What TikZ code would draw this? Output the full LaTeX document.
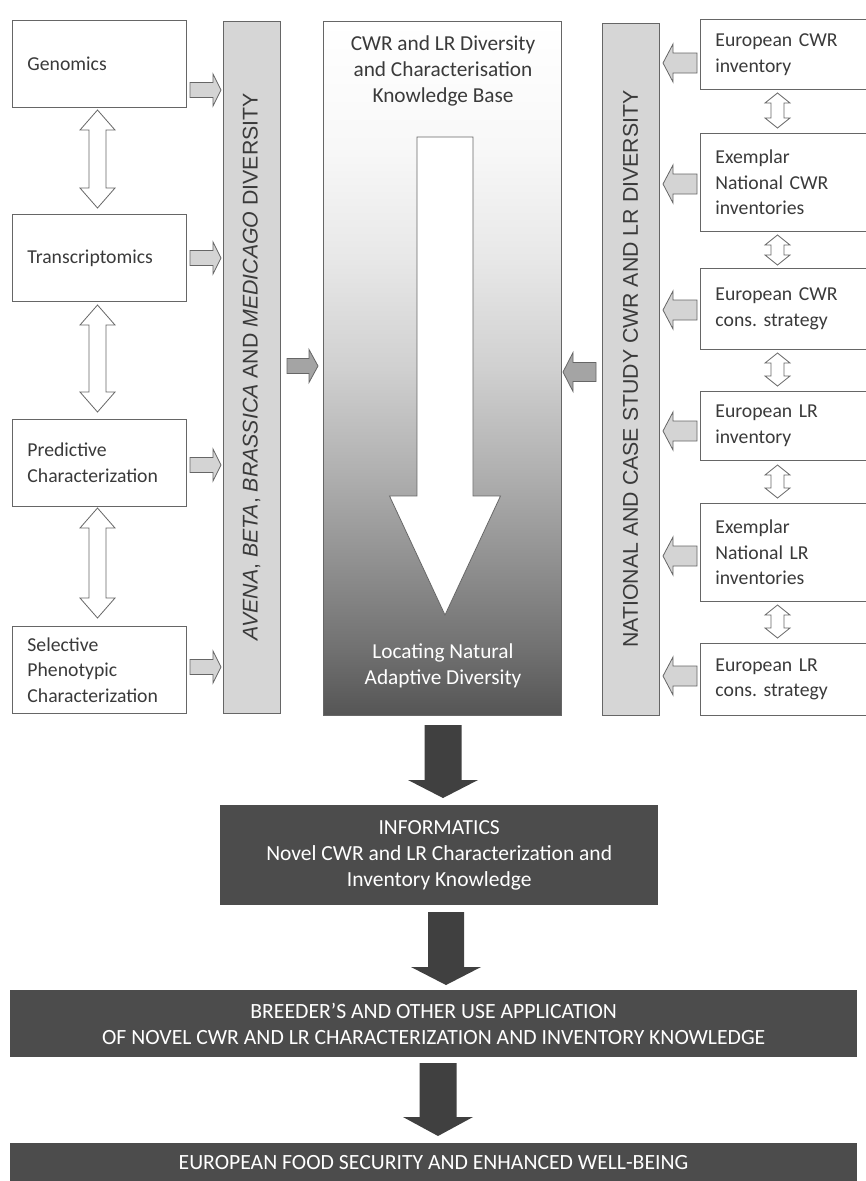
\documentclass[tikz,border=0pt]{standalone}
\usepackage{fontspec}
\setmainfont{Carlito}
\newfontfamily\arialf{Liberation Sans}
\frenchspacing
\definecolor{boxline}{HTML}{666666}
\definecolor{txt}{HTML}{3A3A3A}
\definecolor{bandfill}{HTML}{D6D6D6}
\definecolor{sarrow}{HTML}{D4D4D4}
\definecolor{marrow}{HTML}{A4A4A4}
\definecolor{darkfill}{HTML}{4C4C4C}
\definecolor{darkarrow}{HTML}{404040}
\definecolor{sh0}{HTML}{555555}
\definecolor{sh1}{HTML}{727272}
\definecolor{sh2}{HTML}{909090}
\definecolor{sh3}{HTML}{B2B2B2}
\definecolor{sh4}{HTML}{D0D0D0}
\definecolor{sh5}{HTML}{E8E8E8}
\definecolor{sh6}{HTML}{F8F8F8}
\pgfdeclareverticalshading{colshade}{100bp}{color(0bp)=(sh0); color(25bp)=(sh0); color(30bp)=(sh1); color(36bp)=(sh2); color(43bp)=(sh3); color(50bp)=(sh4); color(58bp)=(sh5); color(66bp)=(sh6); color(75bp)=(white); color(100bp)=(white)}
\tikzset{
  pics/blockarrow/.style n args={4}{code={
    \path[pic actions] (0,-#2) -- ({#1-#4},-#2) -- ({#1-#4},-#3) -- (#1,0) -- ({#1-#4},#3) -- ({#1-#4},#2) -- (0,#2) -- cycle;}},
  pics/dblarrow/.style n args={4}{code={
    \path[pic actions] (0,0) -- (#4,-#3) -- (#4,-#2) -- ({#1-#4},-#2) -- ({#1-#4},-#3) -- (#1,0) -- ({#1-#4},#3) -- ({#1-#4},#2) -- (#4,#2) -- (#4,#3) -- cycle;}},
}
\begin{document}
\begin{tikzpicture}[x=1pt,y=-1pt,
  box/.style={draw=boxline, line width=0.9pt, fill=white, text=txt, align=left, inner xsep=15pt, inner ysep=0pt, anchor=north west, font=\fontsize{19.7}{25.5}\selectfont},
  band/.style={draw=boxline, line width=0.9pt, fill=bandfill, text=txt, rotate=90, inner sep=0pt, font=\arialf\fontsize{21.3}{24}\selectfont},
  darkbox/.style={fill=darkfill, draw=none, text=white, align=center, anchor=north west, inner sep=0pt},
  lightarrow/.style={draw=boxline, fill=sarrow, line width=0.8pt},
  whitearrow/.style={draw=boxline, fill=white, line width=0.8pt},
  midarrow/.style={draw=boxline, fill=marrow, line width=0.8pt},
  bigdark/.style={fill=darkarrow, draw=none}]
\useasboundingbox (0,0) rectangle (866,1181);
\clip (0,0) rectangle (866,1181);
\fill[white] (0,0) rectangle (866,1181);

% left column boxes
\node[box, text width=144pt, minimum height=87pt] (gen) at (12,20) {Genomics};
\node[box, text width=144pt, minimum height=87pt] (tra) at (12,214) {Transcriptomics};
\node[box, text width=144pt, minimum height=87pt] (pre) at (12,419) {Predictive\\Characterization};
\node[box, text width=144pt, minimum height=87pt] (sel) at (12,626) {Selective\\Phenotypic\\Characterization};

\pic[whitearrow, rotate=-90] at (97.5,110) {dblarrow={98}{8.5}{17.5}{20}};
\pic[whitearrow, rotate=-90] at (97.5,305) {dblarrow={107}{8.5}{17.5}{20}};
\pic[whitearrow, rotate=-90] at (97.5,508) {dblarrow={110}{8.5}{17.5}{20}};

\pic[lightarrow] at (190,90) {blockarrow={31}{7.5}{16}{8}};
\pic[lightarrow] at (190,258) {blockarrow={31}{7.5}{16}{8}};
\pic[lightarrow] at (190,465) {blockarrow={31}{7.5}{16}{8}};
\pic[lightarrow] at (190,667) {blockarrow={31}{7.5}{16}{8}};

% left band
\node[band, minimum width=692pt, minimum height=57pt] (lband) at (251.5,367)
  {\textit{AVENA}, \textit{BETA}, \textit{BRASSICA} AND \textit{MEDICAGO} DIVERSITY};

% central column
\node[draw=boxline, line width=0.9pt, shading=colshade, minimum width=238pt, minimum height=694pt, inner sep=0pt, anchor=north west] (col) at (323,21) {};
\pic[whitearrow] at (445,137) [rotate=-90] {blockarrow={478}{28}{55.5}{119}};
\node[align=center, text=txt, font=\fontsize{21.3}{26}\selectfont] (coltitle) at (443,71) {CWR and LR Diversity\\and Characterisation\\Knowledge Base};
\node[align=center, text=white, font=\fontsize{21.3}{25.5}\selectfont] (colfoot) at (443,666) {Locating Natural\\Adaptive Diversity};

\pic[midarrow] at (287,366) {blockarrow={31}{7.5}{16.5}{9}};
\pic[midarrow, rotate=180] at (596,372) {blockarrow={33}{9.5}{19.5}{10}};

% right band
\node[band, minimum width=692pt, minimum height=57pt] (rband) at (630.5,369)
  {NATIONAL AND CASE STUDY CWR AND LR DIVERSITY};

% right column boxes
\node[box, text width=170pt, minimum height=70pt] (r1) at (700,19) {European CWR\\inventory};
\node[box, text width=170pt, minimum height=98pt] (r2) at (700,133) {Exemplar\\National CWR\\inventories};
\node[box, text width=170pt, minimum height=81pt] (r3) at (700,268) {European CWR\\cons. strategy};
\node[box, text width=170pt, minimum height=69pt] (r4) at (700,391) {European LR\\inventory};
\node[box, text width=170pt, minimum height=98pt] (r5) at (700,503) {Exemplar\\National LR\\inventories};
\node[box, text width=170pt, minimum height=72pt] (r6) at (700,643) {European LR\\cons. strategy};

\pic[whitearrow, rotate=-90] at (777.5,93) {dblarrow={35}{6.5}{12.5}{10}};
\pic[whitearrow, rotate=-90] at (777.5,235) {dblarrow={30}{6.5}{12.5}{10}};
\pic[whitearrow, rotate=-90] at (777.5,353) {dblarrow={33}{6.5}{12.5}{10}};
\pic[whitearrow, rotate=-90] at (777.5,465) {dblarrow={33}{6.5}{12.5}{10}};
\pic[whitearrow, rotate=-90] at (777.5,605) {dblarrow={33}{6.5}{12.5}{10}};

\pic[lightarrow, rotate=180] at (697,63) {blockarrow={34}{10}{19}{10}};
\pic[lightarrow, rotate=180] at (697,184) {blockarrow={34}{10}{19}{10}};
\pic[lightarrow, rotate=180] at (697,310) {blockarrow={34}{10}{19}{10}};
\pic[lightarrow, rotate=180] at (697,431) {blockarrow={34}{10}{19}{10}};
\pic[lightarrow, rotate=180] at (697,556) {blockarrow={34}{10}{19}{10}};
\pic[lightarrow, rotate=180] at (697,676) {blockarrow={34}{10}{19}{10}};

% bottom flow
\pic[bigdark, rotate=-90] at (443,725) {blockarrow={73}{18.5}{35}{18}};
\node[darkbox, minimum width=438pt, minimum height=100pt, font=\fontsize{21.5}{26}\selectfont] (info) at (220,805)
  {INFORMATICS\\Novel CWR and LR Characterization and\\Inventory Knowledge};
\pic[bigdark, rotate=-90] at (446,912) {blockarrow={73}{18}{35}{18}};
\node[darkbox, minimum width=847pt, minimum height=67pt, font=\fontsize{21.7}{26}\selectfont] (breed) at (10,990)
  {BREEDER’S AND OTHER USE APPLICATION\\OF NOVEL CWR AND LR CHARACTERIZATION AND INVENTORY KNOWLEDGE};
\pic[bigdark, rotate=-90] at (438,1063) {blockarrow={73}{18.5}{35}{19}};
\node[darkbox, minimum width=847pt, minimum height=60pt] (food) at (10,1143) {};
\node[text=white, font=\fontsize{21.7}{26}\selectfont] (foodtext) at (433.5,1163) {EUROPEAN FOOD SECURITY AND ENHANCED WELL-BEING};
\end{tikzpicture}
\end{document}
